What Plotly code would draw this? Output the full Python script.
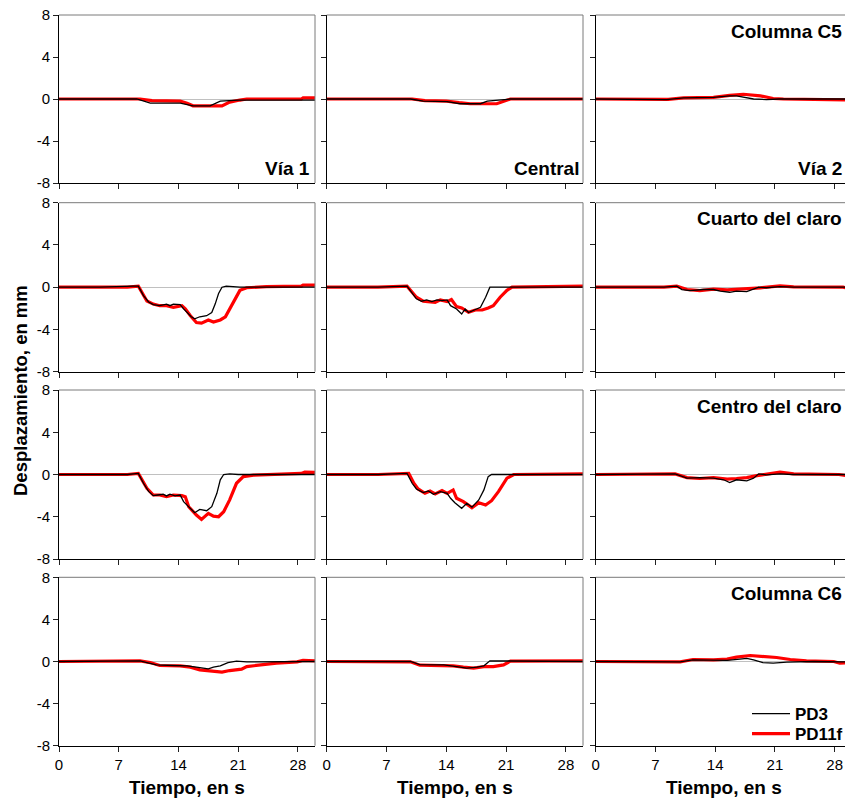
import plotly.graph_objects as go

# ---------------- data (time in s, displacement in mm) ----------------
x_ticks = [0, 7, 14, 21, 28]
y_ticks = [-8, -4, 0, 4, 8]
series_names = ["PD3", "PD11f"]
col_labels = ["Vía 1", "Central", "Vía 2"]
row_labels = ["Columna C5", "Cuarto del claro", "Centro del claro", "Columna C6"]

# Row 1: Columna C5
t_c5_v1_pd3 = [0, 9.1, 10.7, 14.2, 15.7, 17.7, 18.9, 21, 30]
v_c5_v1_pd3 = [0, 0, -0.4, -0.4, -0.65, -0.65, -0.2, -0.1, -0.1]
t_c5_v1_pd11 = [0, 9.5, 10.9, 14.2, 15.0, 15.7, 19.1, 20.0, 21.2, 22, 28.4, 28.6, 30]
v_c5_v1_pd11 = [0, 0, -0.15, -0.2, -0.4, -0.65, -0.65, -0.3, -0.1, 0, 0, 0.1, 0.1]
t_c5_ce_pd3 = [0, 9.8, 11.3, 14.1, 15.6, 18.0, 18.8, 20.7, 21.5, 30]
v_c5_ce_pd3 = [0, 0, -0.2, -0.25, -0.45, -0.45, -0.2, -0.1, 0, 0]
t_c5_ce_pd11 = [0, 10, 11.5, 14, 15.5, 16.8, 19.9, 21.5, 30]
v_c5_ce_pd11 = [0, 0, -0.15, -0.2, -0.35, -0.45, -0.45, 0, 0]
t_c5_v2_pd3 = [0, 7, 8.3, 10.3, 13.8, 15.7, 16.5, 18.5, 20, 21.5, 30]
v_c5_v2_pd3 = [0, 0, -0.05, 0.1, 0.15, 0.3, 0.3, 0, -0.05, 0, 0]
t_c5_v2_pd11 = [0, 8.5, 10.3, 13.8, 15.7, 17.3, 19.3, 20.8, 22, 29, 30]
v_c5_v2_pd11 = [0, -0.03, 0.1, 0.15, 0.35, 0.45, 0.3, 0.05, 0, -0.05, -0.1]

# Row 2: Cuarto del claro
t_q_v1_pd3 = [0, 4.8, 8.7, 9.3, 9.9, 10.5, 11.05, 11.8, 12.6, 13.0, 13.4, 14.2, 14.6, 15.0, 15.5, 15.9,
              16.5, 17.3, 17.9, 18.3, 18.7, 19.1, 19.6, 21.2, 30]
v_q_v1_pd3 = [0, 0, 0.1, 0.1, -0.8, -1.4, -1.65, -1.75, -1.6, -1.75, -1.6, -1.65, -2.05, -2.4, -2.8, -3.0,
              -2.8, -2.7, -2.4, -1.6, -0.6, 0, 0.1, 0, 0]
t_q_v1_pd11 = [0, 8, 9.3, 9.7, 10.3, 11.05, 11.8, 12.6, 13.4, 14.4, 14.8, 15.4, 16.1, 16.7, 17.5, 18.1,
               18.9, 19.5, 20.0, 20.6, 21.2, 22.0, 24.3, 28.4, 28.6, 30]
v_q_v1_pd11 = [0, 0, 0.1, -0.5, -1.3, -1.6, -1.75, -1.75, -1.9, -1.75, -2.05, -2.7, -3.35, -3.4, -3.1, -3.3,
               -3.1, -2.8, -2.05, -1.1, -0.3, -0.05, 0.05, 0.1, 0.2, 0.2]
t_q_ce_pd3 = [0, 6, 9.4, 10.0, 10.5, 11.1, 11.7, 12.3, 12.9, 13.5, 14.1, 14.5, 15.2, 15.8, 16.2, 16.6,
              17.2, 18.0, 18.6, 19.1, 30]
v_q_ce_pd3 = [0, 0, 0.1, -0.6, -1.1, -1.33, -1.2, -1.37, -1.2, -1.27, -1.2, -1.75, -2.06, -2.54, -2.06, -2.4,
              -2.16, -1.9, -0.95, 0, 0]
t_q_ce_pd11 = [0, 6, 9.4, 10.0, 10.5, 11.3, 12.1, 12.7, 13.3, 14.1, 14.6, 15.2, 15.8, 16.6, 17.4, 18.2,
               18.9, 19.5, 20.3, 21.1, 21.7, 28, 30]
v_q_ce_pd11 = [0, 0, 0.1, -0.5, -0.95, -1.33, -1.37, -1.43, -1.2, -1.37, -1.17, -1.84, -1.97, -2.38, -2.16, -2.16,
               -1.97, -1.75, -0.95, -0.3, 0, 0.05, 0.1]
t_q_v2_pd3 = [0, 8, 9.5, 10.1, 11.05, 12.6, 13.8, 14.6, 15.7, 16.5, 17.7, 18.5, 19.1, 20.0, 21.6, 23.2, 30]
v_q_v2_pd3 = [0, 0, 0.1, -0.22, -0.32, -0.22, -0.22, -0.38, -0.48, -0.38, -0.41, -0.16, 0, -0.05, 0.06, 0, 0]
t_q_v2_pd11 = [0, 8, 9.5, 10.7, 12.2, 13.8, 15.4, 16.9, 18.1, 19.3, 21.6, 23.2, 29, 29.5, 30]
v_q_v2_pd11 = [0, 0, 0.1, -0.22, -0.32, -0.19, -0.25, -0.19, -0.1, -0.06, 0.13, 0.03, 0, -0.1, -0.1]

# Row 3: Centro del claro
t_m_v1_pd3 = [0, 8, 9.3, 9.9, 10.5, 11.05, 11.6, 12.2, 12.6, 13.0, 13.6, 14.2, 14.6, 15.2, 15.9, 16.5,
              17.3, 17.9, 18.5, 18.9, 19.3, 20, 21, 30]
v_m_v1_pd3 = [0, 0, 0.1, -0.83, -1.6, -2.0, -1.94, -1.87, -2.03, -1.87, -2.03, -1.94, -2.57, -3.1, -3.62, -3.3,
              -3.43, -3.05, -1.78, -0.5, 0, 0.05, 0, 0]
t_m_v1_pd11 = [0, 8, 9.3, 9.7, 10.3, 11.05, 11.8, 12.6, 13.4, 14.4, 14.8, 15.2, 16.1, 16.7, 17.5, 18.1,
               18.7, 19.3, 20.0, 20.8, 21.6, 22.8, 28.4, 28.8, 30]
v_m_v1_pd11 = [0, 0, 0.1, -0.5, -1.3, -1.94, -1.94, -2.1, -1.94, -2.0, -2.1, -3.05, -3.84, -4.25, -3.68, -3.94,
               -4.0, -3.52, -2.4, -0.83, -0.2, -0.06, 0.1, 0.22, 0.2]
t_m_ce_pd3 = [0, 6, 9.4, 10.0, 10.5, 11.3, 11.9, 12.5, 13.3, 14.1, 14.5, 15.0, 15.8, 16.4, 17.0, 17.8,
              18.4, 18.9, 19.3, 30]
v_m_ce_pd3 = [0, 0, 0.1, -0.83, -1.37, -1.71, -1.56, -1.87, -1.62, -1.78, -2.25, -2.67, -3.2, -2.73, -3.1, -2.41,
              -1.46, -0.2, 0, 0]
t_m_ce_pd11 = [0, 6, 9.6, 10.2, 10.7, 11.5, 12.1, 12.7, 13.5, 14.1, 14.8, 15.2, 16.0, 17.0, 17.8, 18.6,
               19.3, 20.1, 21.1, 21.9, 30]
v_m_ce_pd11 = [0, 0, 0.1, -0.83, -1.37, -1.78, -1.56, -1.84, -1.52, -1.78, -1.46, -2.25, -2.57, -3.14, -2.67, -2.89,
               -2.48, -1.62, -0.35, 0, 0.05]
t_m_v2_pd3 = [0, 8, 9.3, 10.7, 12.2, 13.8, 15.0, 15.7, 16.5, 17.7, 18.5, 19.1, 20.0, 21.6, 23, 30]
v_m_v2_pd3 = [0, 0, 0.05, -0.35, -0.29, -0.35, -0.5, -0.76, -0.5, -0.6, -0.35, 0.06, -0.03, 0.06, 0, 0]
t_m_v2_pd11 = [0, 8, 9.3, 10.7, 12.2, 13.8, 15.4, 16.5, 17.7, 18.9, 21.6, 23.2, 28.5, 29.3, 30]
v_m_v2_pd11 = [0, 0, 0.05, -0.29, -0.38, -0.29, -0.44, -0.38, -0.29, -0.1, 0.22, 0.06, 0, -0.1, -0.1]

# Row 4: Columna C6
t_c6_v1_pd3 = [0, 9.5, 10.3, 11.4, 13.4, 15.0, 16.1, 17.5, 18.1, 18.9, 19.8, 20.8, 22, 28, 30]
v_c6_v1_pd3 = [0, 0.05, -0.1, -0.32, -0.38, -0.41, -0.54, -0.7, -0.54, -0.41, -0.1, 0.03, -0.03, -0.05, 0]
t_c6_v1_pd11 = [0, 9.5, 10.7, 11.8, 14.2, 15.4, 16.5, 17.7, 19.1, 20.0, 21.4, 22.0, 23.6, 25.5, 27.9, 28.6, 30]
v_c6_v1_pd11 = [0, 0.05, -0.1, -0.38, -0.41, -0.54, -0.79, -0.89, -1.0, -0.86, -0.73, -0.48, -0.32, -0.16,
                -0.03, 0.1, 0.05]
t_c6_ce_pd3 = [0, 9.8, 10.9, 13.7, 15.2, 16.4, 17.6, 18.4, 19.1, 20.7, 21.5, 30]
v_c6_ce_pd3 = [0, 0, -0.29, -0.32, -0.48, -0.63, -0.54, -0.41, 0.06, 0.06, 0, 0]
t_c6_ce_pd11 = [0, 9.8, 10.9, 13.7, 14.8, 16.0, 17.2, 18.4, 19.5, 20.7, 21.5, 30]
v_c6_ce_pd11 = [0, -0.03, -0.35, -0.35, -0.41, -0.54, -0.63, -0.48, -0.48, -0.32, 0.03, 0.05]
t_c6_v2_pd3 = [0, 8, 9.9, 11.4, 13.8, 15.4, 16.9, 17.7, 18.5, 19.6, 20.8, 22.4, 25.5, 29, 30]
v_c6_v2_pd3 = [0, -0.03, -0.03, 0.16, 0.13, 0.1, 0.22, 0.29, 0.16, -0.1, -0.16, -0.06, 0, 0, -0.05]
t_c6_v2_pd11 = [0, 9.9, 11.4, 13.8, 15.4, 16.5, 18.1, 19.6, 21.2, 22.8, 24.7, 27.9, 28.6, 30]
v_c6_v2_pd11 = [0, -0.03, 0.19, 0.16, 0.22, 0.41, 0.57, 0.51, 0.38, 0.19, 0.06, 0, -0.16, -0.1]

panels = [
    [(t_c5_v1_pd3, v_c5_v1_pd3, t_c5_v1_pd11, v_c5_v1_pd11),
     (t_c5_ce_pd3, v_c5_ce_pd3, t_c5_ce_pd11, v_c5_ce_pd11),
     (t_c5_v2_pd3, v_c5_v2_pd3, t_c5_v2_pd11, v_c5_v2_pd11)],
    [(t_q_v1_pd3, v_q_v1_pd3, t_q_v1_pd11, v_q_v1_pd11),
     (t_q_ce_pd3, v_q_ce_pd3, t_q_ce_pd11, v_q_ce_pd11),
     (t_q_v2_pd3, v_q_v2_pd3, t_q_v2_pd11, v_q_v2_pd11)],
    [(t_m_v1_pd3, v_m_v1_pd3, t_m_v1_pd11, v_m_v1_pd11),
     (t_m_ce_pd3, v_m_ce_pd3, t_m_ce_pd11, v_m_ce_pd11),
     (t_m_v2_pd3, v_m_v2_pd3, t_m_v2_pd11, v_m_v2_pd11)],
    [(t_c6_v1_pd3, v_c6_v1_pd3, t_c6_v1_pd11, v_c6_v1_pd11),
     (t_c6_ce_pd3, v_c6_ce_pd3, t_c6_ce_pd11, v_c6_ce_pd11),
     (t_c6_v2_pd3, v_c6_v2_pd3, t_c6_v2_pd11, v_c6_v2_pd11)],
]

# ---------------- layout geometry ----------------
W, H = 845, 798
FONT = "Liberation Sans, Arial, sans-serif"
col_px = [(59, 315), (326.7, 583), (595.7, 852)]
row_px = [(15, 183), (202.7, 371.7), (390, 559), (577.3, 745.7)]
px_per_s = (col_px[0][1] - col_px[0][0]) / 30.0

fig = go.Figure()
legend_font = dict(size=17, family=FONT, color="black", weight="bold")
layout = dict(
    template="none",
    width=W, height=H, margin=dict(l=0, r=0, t=0, b=0, pad=0, autoexpand=False),
    paper_bgcolor="white", plot_bgcolor="white",
    font=dict(family=FONT, size=15, color="black"),
    showlegend=True,
    legend=dict(x=747 / W, y=1 - 696 / H, xanchor="left", yanchor="top",
                bgcolor="rgba(0,0,0,0)", font=legend_font, itemwidth=38, borderwidth=0),
    legend2=dict(x=747 / W, y=1 - 716 / H, xanchor="left", yanchor="top",
                 bgcolor="rgba(0,0,0,0)", font=legend_font, itemwidth=38, borderwidth=0),
)
shapes = []
annotations = []

for r in range(4):
    for c in range(3):
        k = r * 3 + c + 1
        sfx = "" if k == 1 else str(k)
        t1, v1, t2, v2 = panels[r][c]
        # red first, black on top
        fig.add_trace(go.Scatter(x=t2, y=v2, mode="lines", name=series_names[1],
                                 line=dict(color="#ff0000", width=3.2),
                                 xaxis="x" + sfx, yaxis="y" + sfx,
                                 showlegend=(k == 12), legend="legend2"))
        fig.add_trace(go.Scatter(x=t1, y=v1, mode="lines", name=series_names[0],
                                 line=dict(color="#000000", width=1.3),
                                 xaxis="x" + sfx, yaxis="y" + sfx,
                                 showlegend=(k == 12), legend="legend"))
        x0p, x1p = col_px[c]
        y0p, y1p = row_px[r]
        xr_max = 30 if c < 2 else (W - x0p) / px_per_s
        x1dom = min(x1p, W) / W
        layout["xaxis" + sfx] = dict(
            domain=[x0p / W, x1dom], range=[0, xr_max], anchor="y" + sfx, automargin=False,
            tickmode="array", tickvals=x_ticks, ticktext=[str(v) for v in x_ticks],
            showticklabels=(r == 3), ticks="outside", ticklen=5, tickwidth=1, tickcolor="#222",
            showline=True, linecolor="black", linewidth=1, showgrid=False, zeroline=False,
            tickfont=dict(size=15, family=FONT, color="black"), fixedrange=True,
        )
        layout["yaxis" + sfx] = dict(
            domain=[1 - y1p / H, 1 - y0p / H], range=[-8, 8], anchor="x" + sfx, automargin=False,
            tickmode="array", tickvals=y_ticks, ticktext=[str(v) for v in y_ticks],
            showticklabels=(c == 0), ticks="outside", ticklen=5, tickwidth=1, tickcolor="#222",
            showline=True, linecolor="black", linewidth=1, showgrid=False,
            zeroline=True, zerolinecolor="#c0c0c0", zerolinewidth=1,
            tickfont=dict(size=15, family=FONT, color="black"), fixedrange=True,
        )
        xd = "x" + sfx + " domain"
        yd = "y" + sfx + " domain"
        shapes.append(dict(type="line", xref=xd, yref=yd, x0=0, x1=1, y0=1, y1=1,
                           line=dict(color="#7a7a7a", width=1), layer="above"))
        if c < 2:
            shapes.append(dict(type="line", xref=xd, yref=yd, x0=1, x1=1, y0=0, y1=1,
                               line=dict(color="#7a7a7a", width=1), layer="above"))

# column labels (bottom right of top row)
label_font = dict(family=FONT, size=19, color="black", weight="bold")
col_label_right = [312, 581, 844]
for c in range(3):
    annotations.append(dict(text=col_labels[c], x=col_label_right[c] / W, y=1 - 169 / H,
                            xref="paper", yref="paper", xanchor="right", yanchor="middle",
                            showarrow=False, font=label_font))
for r in range(4):
    annotations.append(dict(text=row_labels[r], x=844 / W, y=1 - (row_px[r][0] + 16) / H,
                            xref="paper", yref="paper", xanchor="right", yanchor="middle",
                            showarrow=False, font=label_font))

# axis titles
title_font = dict(family=FONT, size=19, color="black", weight="bold")
for c in range(3):
    cx = (col_px[c][0] + col_px[c][1]) / 2
    annotations.append(dict(text="Tiempo, en s", x=cx / W, y=1 - 787 / H, xref="paper", yref="paper",
                            xanchor="center", yanchor="middle", showarrow=False, font=title_font))
annotations.append(dict(text="Desplazamiento, en mm", x=20 / W, y=1 - 391 / H, xref="paper", yref="paper",
                        xanchor="center", yanchor="middle", textangle=-90, showarrow=False,
                        font=dict(family=FONT, size=18.5, color="black", weight="bold")))

layout["shapes"] = shapes
layout["annotations"] = annotations
fig.update_layout(**layout)

fig.write_html(
    "out.html",
    config={"displayModeBar": False},
    post_script="document.body.style.margin='0';document.body.style.overflow='hidden';",
)
